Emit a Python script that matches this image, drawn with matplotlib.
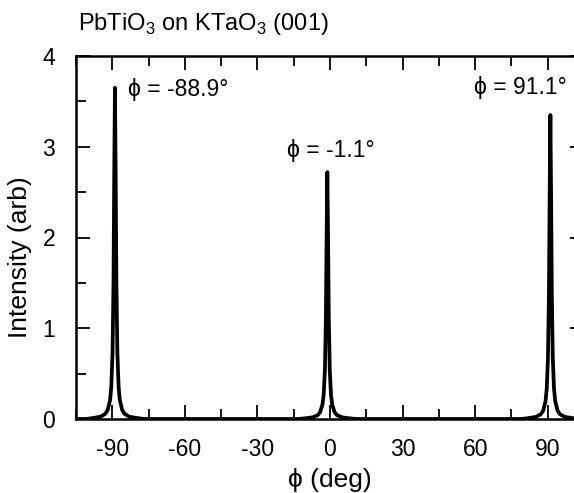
import numpy as np
import matplotlib
matplotlib.use("Agg")
import matplotlib.pyplot as plt
from matplotlib.ticker import MultipleLocator

plt.rcParams["font.family"] = ["Liberation Sans", "DejaVu Sans"]
plt.rcParams["mathtext.fontset"] = "custom"
plt.rcParams["mathtext.rm"] = "Liberation Sans"
plt.rcParams["axes.unicode_minus"] = False

# peak positions (deg) and intensity profiles
peak_centers = [-88.9, -1.1, 91.1]
peak_labels = ["ϕ = -88.9°", "ϕ = -1.1°", "ϕ = 91.1°"]
offsets = [-9, -6, -4, -3, -2, -1.5, -1, -0.6, -0.3, 0,
           0.3, 0.6, 1, 1.5, 2, 3, 4, 6, 9]
peak1 = [0.011, 0.025, 0.056, 0.10, 0.21, 0.36, 0.73, 1.50, 2.68, 3.65,
         2.68, 1.50, 0.73, 0.36, 0.21, 0.10, 0.056, 0.025, 0.011]
peak2 = [0.008, 0.019, 0.042, 0.074, 0.16, 0.27, 0.54, 1.12, 2.00, 2.72,
         2.00, 1.12, 0.54, 0.27, 0.16, 0.074, 0.042, 0.019, 0.008]
peak3 = [0.010, 0.023, 0.052, 0.090, 0.197, 0.335, 0.67, 1.37, 2.46, 3.35,
         2.46, 1.37, 0.67, 0.335, 0.197, 0.090, 0.052, 0.023, 0.010]

# ------------------------------------------------------------- build trace
phi = [-105.0]
inten = [0.0]
for c, prof in zip(peak_centers, [peak1, peak2, peak3]):
    phi += [c - 15, c - 12]
    inten += [0.0, 0.0]
    phi += [c + o for o in offsets]
    inten += prof
    phi += [c + 12, c + 15]
    inten += [0.0, 0.0]
phi.append(105.0)
inten.append(0.0)

# ------------------------------------------------------------------ figure
fig = plt.figure(figsize=(5.74, 4.93), dpi=100)
ax = fig.add_axes([76 / 574, (493 - 419) / 493, 508 / 574, (419 - 56) / 493])

ax.plot(phi, inten, color="black", linewidth=2.7, solid_joinstyle="round")

ax.set_xlim(-105, 105)
ax.set_ylim(0, 4)
ax.xaxis.set_major_locator(MultipleLocator(30))
ax.xaxis.set_minor_locator(MultipleLocator(15))
ax.yaxis.set_major_locator(MultipleLocator(1))
ax.yaxis.set_minor_locator(MultipleLocator(0.5))

ax.tick_params(which="both", direction="in", top=True, right=True,
               width=1.3, labelsize=16.5)
ax.tick_params(which="major", length=10)
ax.tick_params(which="minor", length=7)
ax.tick_params(axis="x", which="major", pad=14)
ax.tick_params(axis="y", which="major", pad=15)
for s in ax.spines.values():
    s.set_linewidth(1.8)

ax.set_xlabel("ϕ (deg)", fontsize=19, labelpad=5)
ax.set_ylabel("Intensity (arb)", fontsize=19)
ax.yaxis.set_label_coords(-0.086, 0.445)

# peak annotations
label_pos = [(-83.3, 3.63), (-17.6, 2.96), (59.7, 3.65)]
for (x, y), txt in zip(label_pos, peak_labels):
    ax.text(x, y, txt, fontsize=16.5, ha="left", va="center")

fig.text(78 / 574, 1 - 30 / 493, "PbTiO$_3$ on KTaO$_3$ (001)",
         fontsize=17, ha="left", va="baseline")

fig.savefig("out.png", dpi=100)
